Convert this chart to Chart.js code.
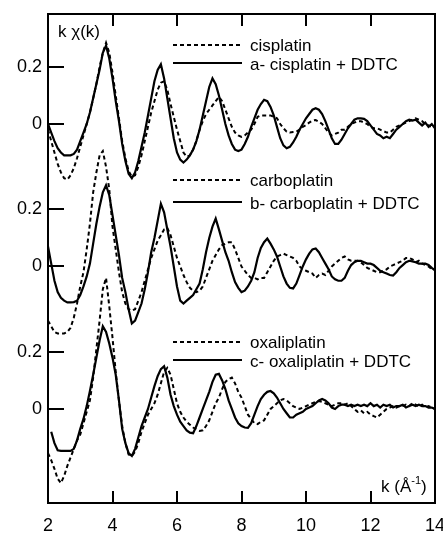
<!DOCTYPE html>
<html><head><meta charset="utf-8">
<script src="https://cdn.jsdelivr.net/npm/chart.js@4.4.1/dist/chart.umd.min.js"></script>
<style>html,body{margin:0;padding:0;background:#fff}#wrap{width:443px;height:533px}</style>
</head><body><div id="wrap"><canvas id="c" width="443" height="533"></canvas></div>
<script>
// k grid (Å^-1)
const K = [2.0,2.1,2.2,2.3,2.4,2.5,2.6,2.7,2.8,2.9,
3.0,3.1,3.2,3.3,3.4,3.5,3.6,3.7,3.8,3.9,
4.0,4.1,4.2,4.3,4.4,4.5,4.6,4.7,4.8,4.9,
5.0,5.1,5.2,5.3,5.4,5.5,5.6,5.7,5.8,5.9,
6.0,6.1,6.2,6.3,6.4,6.5,6.6,6.7,6.8,6.9,
7.0,7.1,7.2,7.3,7.4,7.5,7.6,7.7,7.8,7.9,
8.0,8.1,8.2,8.3,8.4,8.5,8.6,8.7,8.8,8.9,
9.0,9.1,9.2,9.3,9.4,9.5,9.6,9.7,9.8,9.9,
10.0,10.1,10.2,10.3,10.4,10.5,10.6,10.7,10.8,10.9,
11.0,11.1,11.2,11.3,11.4,11.5,11.6,11.7,11.8,11.9,
12.0,12.1,12.2,12.3,12.4,12.5,12.6,12.7,12.8,12.9,
13.0,13.1,13.2,13.3,13.4,13.5,13.6,13.7,13.8,13.9,
14.0];

// a: cisplatin (dashed) and cisplatin + DDTC (solid)
const cisplatin = [-0.02,-0.06,-0.10,-0.14,-0.17,-0.19,-0.195,-0.18,-0.155,-0.12,
-0.08,-0.04,0.00,0.04,0.09,0.14,0.20,0.25,0.285,0.25,
0.18,0.10,0.02,-0.06,-0.12,-0.165,-0.185,-0.18,-0.15,-0.11,
-0.06,-0.01,0.04,0.08,0.12,0.145,0.15,0.12,0.07,0.025,
-0.02,-0.06,-0.10,-0.115,-0.11,-0.09,-0.06,-0.02,0.01,0.035,
0.05,0.065,0.08,0.095,0.08,0.05,0.02,-0.01,-0.03,-0.04,
-0.045,-0.04,-0.03,-0.02,0.00,0.025,0.03,0.03,0.03,0.03,
0.025,0.02,0.0,-0.015,-0.027,-0.03,-0.028,-0.027,-0.02,-0.01,
-0.004,0.005,0.012,0.014,0.008,0.0,-0.015,-0.03,-0.04,-0.035,
-0.03,-0.02,-0.02,-0.01,0.0,0.005,0.01,0.01,0.005,0.0,
-0.01,-0.015,-0.015,-0.02,-0.025,-0.03,-0.03,-0.02,-0.01,-0.005,
0.0,0.005,0.01,0.015,0.02,0.015,0.01,0.0,-0.005,-0.01,
-0.01];
const cisplatinDDTC = [0.00,-0.03,-0.06,-0.085,-0.10,-0.11,-0.11,-0.11,-0.105,-0.09,
-0.06,-0.03,0.00,0.04,0.09,0.14,0.19,0.25,0.275,0.23,
0.16,0.08,0.01,-0.07,-0.13,-0.175,-0.19,-0.17,-0.13,-0.08,
-0.03,0.03,0.09,0.15,0.19,0.21,0.16,0.09,0.02,-0.05,
-0.10,-0.125,-0.135,-0.125,-0.11,-0.09,-0.06,-0.02,0.03,0.08,
0.13,0.16,0.14,0.10,0.05,0.00,-0.04,-0.07,-0.09,-0.095,
-0.09,-0.07,-0.045,-0.01,0.02,0.05,0.07,0.085,0.08,0.06,
0.03,-0.01,-0.05,-0.075,-0.085,-0.08,-0.065,-0.045,-0.02,0.00,
0.02,0.035,0.05,0.055,0.05,0.035,0.01,-0.02,-0.05,-0.07,
-0.07,-0.055,-0.035,-0.015,0.00,0.015,0.02,0.02,0.018,0.01,
-0.005,-0.02,-0.035,-0.04,-0.05,-0.045,-0.05,-0.035,-0.02,-0.01,
0.00,0.01,0.015,0.012,0.015,0.005,-0.005,0.005,-0.01,0.0,
-0.015];

// b: carboplatin (dashed) and carboplatin + DDTC (solid)
const carboplatin = [-0.19,-0.21,-0.23,-0.235,-0.235,-0.235,-0.23,-0.215,-0.18,-0.13,
-0.07,-0.02,0.06,0.15,0.26,0.33,0.39,0.405,0.35,0.27,
0.14,0.06,-0.02,-0.09,-0.13,-0.15,-0.155,-0.15,-0.12,-0.09,
-0.05,-0.01,0.03,0.06,0.09,0.11,0.13,0.135,0.11,0.07,
0.03,0.0,-0.03,-0.055,-0.075,-0.085,-0.09,-0.085,-0.07,-0.04,
-0.01,0.02,0.04,0.06,0.075,0.08,0.085,0.085,0.06,0.03,
0.0,-0.015,-0.03,-0.04,-0.04,-0.045,-0.04,-0.04,-0.02,0.0,
0.02,0.035,0.04,0.045,0.04,0.035,0.03,0.02,0.0,-0.01,
-0.015,-0.02,-0.025,-0.04,-0.03,-0.025,-0.03,-0.015,0.0,0.01,
0.02,0.03,0.035,0.025,0.02,0.02,0.02,0.015,0.005,-0.005,
-0.01,-0.015,-0.02,-0.02,-0.015,-0.01,0.0,0.005,0.01,0.015,
0.02,0.03,0.03,0.025,0.015,0.02,0.01,0.005,0.0,-0.01,
-0.01];
const carboplatinDDTC = [0.07,0.01,-0.05,-0.09,-0.11,-0.12,-0.126,-0.126,-0.125,-0.12,
-0.10,-0.07,-0.035,0.01,0.08,0.15,0.21,0.26,0.285,0.25,
0.18,0.11,0.04,-0.04,-0.09,-0.15,-0.20,-0.19,-0.16,-0.13,
-0.08,-0.02,0.05,0.10,0.16,0.22,0.19,0.13,0.07,0.00,
-0.07,-0.12,-0.13,-0.12,-0.11,-0.10,-0.08,-0.06,-0.01,0.05,
0.10,0.14,0.168,0.13,0.09,0.05,0.02,-0.02,-0.055,-0.075,
-0.09,-0.085,-0.07,-0.05,-0.02,0.03,0.065,0.085,0.098,0.08,
0.06,0.035,0.0,-0.035,-0.06,-0.075,-0.077,-0.06,-0.03,0.0,
0.025,0.045,0.06,0.063,0.05,0.03,0.01,-0.01,-0.035,-0.045,
-0.05,-0.05,-0.04,-0.015,0.005,0.015,0.02,0.02,0.015,0.01,
0.01,0.005,-0.005,-0.015,-0.02,-0.025,-0.03,-0.032,-0.02,-0.005,
0.005,0.015,0.02,0.018,0.015,0.01,0.01,0.01,0.005,-0.005,
-0.014];

// c: oxaliplatin (dashed) and oxaliplatin + DDTC (solid)
const oxaliplatin = [-0.155,-0.18,-0.21,-0.245,-0.26,-0.235,-0.2,-0.17,-0.14,-0.11,
-0.09,-0.05,-0.01,0.03,0.11,0.21,0.31,0.42,0.46,0.36,
0.25,0.13,0.03,-0.06,-0.12,-0.16,-0.165,-0.15,-0.12,-0.08,
-0.05,-0.02,0.0,0.02,0.05,0.09,0.13,0.144,0.12,0.07,
0.02,-0.01,-0.03,-0.045,-0.055,-0.065,-0.072,-0.077,-0.075,-0.06,
-0.04,-0.01,0.02,0.04,0.07,0.095,0.105,0.11,0.09,0.06,
0.04,0.01,-0.02,-0.035,-0.05,-0.053,-0.045,-0.04,-0.02,0.0,
0.01,0.02,0.03,0.035,0.03,0.02,0.01,0.005,0.0,0.005,
0.01,0.015,0.02,0.025,0.028,0.025,0.02,0.015,0.01,0.015,
0.02,0.02,0.015,0.02,0.01,0.0,-0.01,-0.005,-0.015,-0.01,
-0.02,-0.025,-0.03,-0.02,-0.01,0.0,0.005,0.01,0.005,0.01,
0.01,0.015,0.01,0.02,0.015,0.01,0.015,0.005,0.01,0.005,
0.0];
const oxaliplatinDDTC = [null,-0.08,-0.12,-0.145,-0.147,-0.147,-0.147,-0.147,-0.14,-0.11,
-0.07,-0.035,0.01,0.063,0.12,0.18,0.24,0.29,0.27,0.23,
0.18,0.12,0.03,-0.07,-0.12,-0.155,-0.165,-0.14,-0.10,-0.06,
-0.03,0.0,0.04,0.08,0.115,0.14,0.15,0.11,0.05,0.01,
-0.02,-0.045,-0.06,-0.075,-0.083,-0.085,-0.06,-0.03,0.0,0.03,
0.06,0.095,0.12,0.123,0.10,0.07,0.03,0.0,-0.03,-0.05,
-0.06,-0.065,-0.066,-0.05,-0.02,0.01,0.035,0.05,0.06,0.063,
0.055,0.04,0.02,0.0,-0.015,-0.03,-0.03,-0.02,-0.015,-0.01,
0.0,0.005,0.01,0.02,0.03,0.035,0.03,0.02,0.005,0.0,
0.01,0.015,0.015,0.01,0.015,0.01,0.015,0.01,0.015,0.01,
0.02,0.01,0.015,0.005,0.015,0.01,0.015,0.005,0.01,0.01,
0.015,0.005,0.01,0.015,0.01,0.015,0.01,0.01,0.005,0.005,
0.0];

const panelOffsets = [0, -0.5, -1.0];
const yTickValues = [0.2, 0];
const yTickLabels = ['0.2', '0'];
const xTickValues = [2, 4, 6, 8, 10, 12, 14];
const dashedNames = ['cisplatin', 'carboplatin', 'oxaliplatin'];
const solidNames = ['a- cisplatin + DDTC', 'b- carboplatin + DDTC', 'c- oxaliplatin + DDTC'];
const dashedSeries = [cisplatin, carboplatin, oxaliplatin];
const solidSeries = [cisplatinDDTC, carboplatinDDTC, oxaliplatinDDTC];

function pts(vals, off) {
  return K.map((k, i) => ({x: k, y: vals[i] === null ? null : vals[i] + off}));
}

const datasets = [];
for (let p = 0; p < 3; p++) {
  datasets.push({label: dashedNames[p], data: pts(dashedSeries[p], panelOffsets[p]),
    borderColor: '#000', borderWidth: 2, borderDash: [4, 3], pointRadius: 0, tension: 0, fill: false, spanGaps: false});
  datasets.push({label: solidNames[p], data: pts(solidSeries[p], panelOffsets[p]),
    borderColor: '#000', borderWidth: 2.2, pointRadius: 0, tension: 0, fill: false, spanGaps: false});
}

const FONT = '"Liberation Sans", Arial, Helvetica, sans-serif';
const legendRows = [[45, 63], [180, 202], [342, 360]];

const decor = {
  id: 'decor',
  afterDraw(chart) {
    const ctx = chart.ctx, a = chart.chartArea;
    const xs = chart.scales.x, ys = chart.scales.y;
    ctx.save();
    ctx.strokeStyle = '#000'; ctx.lineWidth = 2; ctx.setLineDash([]);
    ctx.strokeRect(a.left, a.top, a.right - a.left, a.bottom - a.top);
    xTickValues.slice(1, -1).forEach(v => {
      const px = Math.round(xs.getPixelForValue(v));
      ctx.beginPath();
      ctx.moveTo(px, a.top); ctx.lineTo(px, a.top + 12);
      ctx.moveTo(px, a.bottom); ctx.lineTo(px, a.bottom - 12);
      ctx.stroke();
    });
    panelOffsets.forEach(off => yTickValues.forEach(v => {
      const py = Math.round(ys.getPixelForValue(v + off));
      ctx.beginPath(); ctx.moveTo(a.left, py); ctx.lineTo(a.left + 16, py); ctx.stroke();
    }));
    ctx.fillStyle = '#000';
    ctx.font = '17px ' + FONT;
    ctx.textBaseline = 'alphabetic';
    legendRows.forEach((r, p) => {
      ctx.lineWidth = 2;
      ctx.setLineDash([4, 3]);
      ctx.beginPath(); ctx.moveTo(173, r[0]); ctx.lineTo(242, r[0]); ctx.stroke();
      ctx.setLineDash([]);
      ctx.beginPath(); ctx.moveTo(173, r[1]); ctx.lineTo(242, r[1]); ctx.stroke();
      ctx.fillText(dashedNames[p], 250, r[0] + 6);
      ctx.fillText(solidNames[p], 250, r[1] + 7);
    });
    ctx.fillText('k \u03C7(k)', 58, 37);
    const x0 = 381, base = 492;
    ctx.fillText('k (\u00C5', x0, base);
    const w = ctx.measureText('k (\u00C5').width;
    ctx.font = '11px ' + FONT;
    ctx.fillText('-1', x0 + w, base - 8);
    const w2 = ctx.measureText('-1').width;
    ctx.font = '17px ' + FONT;
    ctx.fillText(')', x0 + w + w2, base);
    ctx.restore();
  }
};

new Chart(document.getElementById('c'), {
  type: 'line',
  data: {datasets},
  options: {
    responsive: false,
    animation: false,
    devicePixelRatio: 1,
    layout: {padding: {top: 14, right: 8, left: 0, bottom: 0}},
    plugins: {legend: {display: false}, tooltip: {enabled: false}},
    scales: {
      x: {
        type: 'linear', position: 'bottom', min: 2, max: 14,
        afterBuildTicks: s => { s.ticks = xTickValues.map(v => ({value: v})); },
        afterFit: s => { s.height = 30; s.paddingLeft = 0; s.paddingRight = 0; },
        grid: {display: false, drawTicks: false},
        border: {display: false},
        ticks: {color: '#000', font: {size: 18, family: FONT}, padding: 12, maxRotation: 0, autoSkip: false}
      },
      y: {
        type: 'linear', min: -1.33, max: 0.386,
        afterBuildTicks: s => {
          const t = [];
          panelOffsets.forEach(off => yTickValues.forEach(v => t.push({value: v + off})));
          s.ticks = t;
        },
        afterFit: s => { s.width = 48; s.paddingTop = 0; s.paddingBottom = 0; },
        grid: {display: false, drawTicks: false},
        border: {display: false},
        ticks: {color: '#000', font: {size: 18, family: FONT}, padding: 6, autoSkip: false,
          callback: (v, i) => yTickLabels[i % yTickLabels.length]}
      }
    }
  },
  plugins: [decor]
});
</script>
</body></html>
